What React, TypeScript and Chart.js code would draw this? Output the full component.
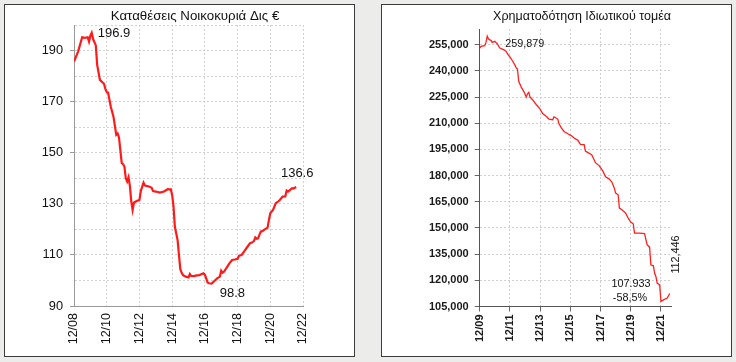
import React, { useEffect, useRef } from "react";
import { Chart, registerables } from "chart.js";
Chart.register(...registerables);

// ---------- Left chart: household deposits (bn €) ----------
const depositTitle = "Καταθέσεις Νοικοκυριά Δις €";
const depositTicks = ["12/08", "12/10", "12/12", "12/14", "12/16", "12/18", "12/20", "12/22"];
// months since Dec 2008
const depositMonths = [
  0, 3, 6, 8, 10, 11, 12, 13, 14, 16, 17, 19, 21, 22, 23, 24, 25, 27, 29, 31, 32, 33, 34, 35, 36, 37,
  38, 39, 40, 41, 42, 43, 44, 46, 48, 49, 51, 52, 53, 55, 57, 58, 60, 63, 66, 69, 70, 71, 72, 73, 74,
  76, 77, 78, 79, 80, 82, 84, 85, 86, 88, 90, 92, 95, 96, 97, 98, 99, 101, 103, 105, 107, 108, 109,
  110, 112, 114, 116, 118, 120, 121, 123, 125, 127, 129, 131, 132, 133, 134, 135, 137, 138, 140, 142,
  143, 144, 146, 148, 150, 151, 153, 155, 156, 157, 158, 160, 161, 163,
];
const depositValues = [
  185.7, 189.6, 195.2, 195.0, 195.2, 193.5, 195.8, 196.9, 194.5, 192.0, 184.4, 178.5, 177.5, 177.0,
  175.0, 173.8, 173.5, 168.0, 164.0, 157.0, 157.5, 156.0, 151.0, 146.0, 145.5, 144.6, 140.0, 138.7,
  140.4, 137.0, 131.0, 127.6, 130.5, 131.1, 131.5, 135.0, 138.3, 137.2, 137.0, 136.8, 136.3, 135.0,
  134.8, 134.4, 134.8, 135.8, 135.6, 135.7, 133.5, 129.0, 121.0, 115.8, 110.0, 104.4, 103.0, 102.1,
  101.5, 101.2, 102.5, 101.8, 101.7, 102.0, 102.1, 102.8, 102.3, 100.8, 99.2, 98.9, 98.8, 99.8, 100.8,
  101.5, 103.8, 103.0, 103.4, 105.0, 106.7, 108.0, 108.2, 108.5, 109.6, 110.0, 111.5, 113.0, 114.5,
  115.0, 115.4, 116.8, 116.3, 116.5, 119.1, 119.3, 120.0, 120.7, 123.7, 126.3, 127.6, 130.2, 131.0,
  131.5, 132.8, 132.9, 135.2, 134.8, 135.2, 136.1, 136.0, 136.6,
];
const depositNotes = [
  { m: 13, v: 196.9, text: "196.9" },
  { m: 163, v: 136.6, text: "136.6" },
  { m: 101, v: 98.8, text: "98.8" },
];

// ---------- Right chart: private sector credit ----------
const loanTitle = "Χρηματοδότηση Ιδιωτικού τομέα";
const loanTicks = ["12/09", "12/11", "12/13", "12/15", "12/17", "12/19", "12/21"];
// months since Dec 2009
const loanMonths = [
  0, 1, 4, 5, 6, 7, 8, 9, 10, 12, 14, 16, 18, 20, 21, 23, 24, 26, 28, 29, 30, 31, 33, 35, 37, 38, 39,
  40, 42, 45, 48, 50, 53, 55, 58, 59, 60, 62, 63, 65, 67, 70, 73, 75, 78, 80, 83, 84, 86, 89, 92, 95,
  98, 100, 103, 105, 107, 108, 110, 111, 113, 116, 118, 120, 122, 123, 127, 131, 133, 135, 136, 138,
  139, 140, 141, 143, 144, 146, 149, 151,
];
const loanValues = [
  253100, 254000, 254400, 256300, 259879, 258300, 257800, 257500, 256300, 256900, 255400, 253100,
  252500, 251800, 251200, 248800, 248000, 245800, 243300, 241800, 241100, 234000, 230700, 228300,
  225000, 226900, 227700, 225000, 223500, 220600, 218100, 215500, 213900, 212400, 212000, 213600,
  213300, 212400, 209700, 207200, 205300, 204000, 202800, 201500, 200200, 197900, 197700, 194000,
  193200, 192000, 187400, 185600, 182400, 179300, 178000, 176300, 172800, 170000, 169000, 161400,
  160400, 158500, 155600, 153400, 152400, 147000, 147000, 146800, 140400, 139000, 128900, 128300,
  124000, 122200, 118400, 117400, 107933, 108800, 109800, 112446,
];
const loanNotes = [
  { m: 6, v: 259879, text: ["259,879"] },
  { m: 144, v: 107933, text: ["107.933", "-58,5%"] },
  { m: 151, v: 112446, text: ["112,446"] },
];

const SANS = '"Liberation Sans", Arial, Helvetica, sans-serif';

function depositConfig(): any {
  const notesPlugin = {
    id: "depositNotes",
    afterDatasetsDraw(chart: any) {
      const { ctx } = chart;
      const x = chart.scales.x;
      const y = chart.scales.y;
      ctx.save();
      ctx.fillStyle = "#111";
      ctx.font = `13.3px ${SANS}`;
      ctx.textAlign = "center";
      ctx.textBaseline = "middle";
      ctx.fillText(depositTitle, 195, 16);
      const [peak, last, low] = depositNotes;
      ctx.font = `13px ${SANS}`;
      ctx.textAlign = "left";
      ctx.fillText(peak.text, x.getPixelForValue(peak.m) + 6, y.getPixelForValue(peak.v) + 1);
      ctx.textAlign = "center";
      ctx.fillText(last.text, x.getPixelForValue(last.m) + 1, y.getPixelForValue(last.v) - 14);
      ctx.textAlign = "left";
      ctx.fillText(low.text, x.getPixelForValue(low.m) + 8, y.getPixelForValue(low.v) + 10);
      ctx.restore();
    },
  };
  return {
    type: "line",
    data: {
      datasets: [
        {
          data: depositMonths.map((m, i) => ({ x: m, y: depositValues[i] })),
          borderColor: "#ff1a1a",
          borderWidth: 2.2,
          pointRadius: 0,
          tension: 0,
          fill: false,
        },
      ],
    },
    options: {
      responsive: false,
      animation: false,
      layout: { padding: { left: 0, top: 25, right: 65, bottom: 0 } },
      plugins: { legend: { display: false }, tooltip: { enabled: false }, title: { display: false } },
      scales: {
        x: {
          type: "linear",
          min: 0,
          max: 168,
          afterBuildTicks: (s: any) => {
            s.ticks = depositTicks.map((_, i) => ({ value: i * 24 }));
          },
          afterFit: (s: any) => {
            s.height = 56;
            s.paddingLeft = 0;
            s.paddingRight = 0;
          },
          ticks: {
            callback: (v: number) => depositTicks[Math.round(v / 24)] ?? "",
            minRotation: 90,
            maxRotation: 90,
            autoSkip: false,
            padding: 4,
            color: "#111",
            font: { family: SANS, size: 12.5 },
          },
          grid: { color: "#d2d2d2", lineWidth: 1, tickLength: 3, tickColor: "rgba(0,0,0,0)" },
          border: { color: "#9a9a9a", width: 1, dash: [2, 2] },
        },
        y: {
          min: 90,
          max: 200,
          afterBuildTicks: (s: any) => {
            const t = [];
            for (let v = 90; v <= 200; v += 10) t.push({ value: v });
            s.ticks = t;
          },
          afterFit: (s: any) => {
            s.width = 74;
            s.paddingTop = 0;
            s.paddingBottom = 0;
          },
          ticks: {
            callback: (v: number) => ((v - 90) % 20 === 0 ? String(v) : ""),
            padding: 7,
            color: "#111",
            font: { family: SANS, size: 12.8 },
          },
          grid: {
            color: "#d2d2d2",
            lineWidth: 1,
            tickLength: 4,
            tickColor: (c: any) => (c.tick && (c.tick.value - 90) % 20 === 0 ? "#9a9a9a" : "rgba(0,0,0,0)"),
          },
          border: { color: "#9a9a9a", width: 1, dash: [2, 2] },
        },
      },
    },
    plugins: [notesPlugin],
  };
}

function loanConfig(): any {
  const notesPlugin = {
    id: "loanNotes",
    afterDatasetsDraw(chart: any) {
      const { ctx } = chart;
      const x = chart.scales.x;
      const y = chart.scales.y;
      ctx.save();
      ctx.fillStyle = "#111";
      ctx.font = `12.5px ${SANS}`;
      ctx.textAlign = "center";
      ctx.textBaseline = "middle";
      ctx.fillText(loanTitle, 214, 17);
      const [peak, low, last] = loanNotes;
      ctx.font = `10.8px ${SANS}`;
      ctx.textAlign = "left";
      ctx.fillText(peak.text[0], x.getPixelForValue(peak.m) + 18, y.getPixelForValue(peak.v) + 8);
      ctx.textAlign = "center";
      const lx = x.getPixelForValue(low.m);
      const ly = y.getPixelForValue(low.v);
      ctx.fillText(low.text[0], lx - 30, ly - 17.5);
      ctx.fillText(low.text[1], lx - 31, ly - 3.5);
      const ex = x.getPixelForValue(last.m);
      const ey = y.getPixelForValue(last.v);
      ctx.translate(ex + 6, ey - 39);
      ctx.rotate(-Math.PI / 2);
      ctx.fillText(last.text[0], 0, 0);
      ctx.restore();
    },
  };
  return {
    type: "line",
    data: {
      datasets: [
        {
          data: loanMonths.map((m, i) => ({ x: m, y: loanValues[i] })),
          borderColor: "#ff2020",
          borderWidth: 1.3,
          pointRadius: 0,
          tension: 0,
          fill: false,
        },
      ],
    },
    options: {
      responsive: false,
      animation: false,
      layout: { padding: { left: 0, top: 29, right: 65, bottom: 0 } },
      plugins: { legend: { display: false }, tooltip: { enabled: false }, title: { display: false } },
      scales: {
        x: {
          type: "linear",
          min: 0,
          max: 152,
          afterBuildTicks: (s: any) => {
            s.ticks = loanTicks.map((_, i) => ({ value: i * 24 }));
          },
          afterFit: (s: any) => {
            s.height = 55.5;
            s.paddingLeft = 0;
            s.paddingRight = 0;
          },
          ticks: {
            callback: (v: number) => loanTicks[Math.round(v / 24)] ?? "",
            minRotation: 90,
            maxRotation: 90,
            autoSkip: false,
            padding: 3,
            color: "#1a1a1a",
            font: { family: SANS, size: 11, weight: "bold" },
          },
          grid: { color: "#d0d0d0", lineWidth: 1, tickLength: 5, tickColor: "#666" },
          border: { color: "#555", width: 1, dash: [2, 2] },
        },
        y: {
          min: 105000,
          max: 264000,
          afterBuildTicks: (s: any) => {
            const t = [];
            for (let v = 105000; v <= 255000; v += 15000) t.push({ value: v });
            s.ticks = t;
          },
          afterFit: (s: any) => {
            s.width = 111.7;
            s.paddingTop = 0;
            s.paddingBottom = 0;
          },
          ticks: {
            callback: (v: number) => v.toLocaleString("en-US"),
            padding: 6,
            color: "#1a1a1a",
            font: { family: SANS, size: 11, weight: "bold" },
          },
          grid: { color: "#d0d0d0", lineWidth: 1, tickLength: 5, tickColor: "#666" },
          border: { color: "#555", width: 1, dash: [2, 2] },
        },
      },
    },
    plugins: [notesPlugin],
  };
}

export default function App() {
  const leftRef = useRef<HTMLCanvasElement>(null);
  const rightRef = useRef<HTMLCanvasElement>(null);
  useEffect(() => {
    const c1 = new Chart(leftRef.current as HTMLCanvasElement, depositConfig());
    const c2 = new Chart(rightRef.current as HTMLCanvasElement, loanConfig());
    return () => {
      c1.destroy();
      c2.destroy();
    };
  }, []);
  const panel = {
    position: "absolute" as const,
    top: 4,
    width: 349,
    height: 351,
    border: "1px solid #3c3c3c",
    background: "#ffffff",
  };
  return (
    <div
      style={{
        position: "fixed",
        left: 0,
        top: 0,
        width: 736,
        height: 362,
        background: "#ececea",
        overflow: "hidden",
      }}
    >
      <div style={{ ...panel, left: 4 }} />
      <div style={{ ...panel, left: 381 }} />
      <canvas
        ref={leftRef}
        width={368}
        height={362}
        style={{ position: "absolute", left: 0, top: 0, width: 368, height: 362 }}
      />
      <canvas
        ref={rightRef}
        width={368}
        height={362}
        style={{ position: "absolute", left: 368, top: 0, width: 368, height: 362 }}
      />
    </div>
  );
}
